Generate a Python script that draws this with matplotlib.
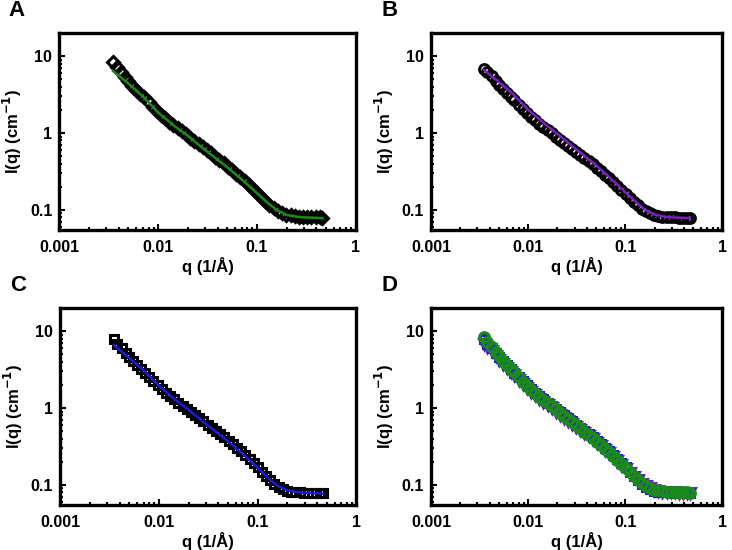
import matplotlib
matplotlib.use('Agg')
import matplotlib.pyplot as plt
from matplotlib.ticker import LogLocator, NullFormatter, FixedLocator, FixedFormatter

plt.rcParams['font.family'] = ['Liberation Sans', 'DejaVu Sans']
plt.rcParams['font.weight'] = 'bold'

# scattering vector for the measured points (1/A)
q_data = [0.0035, 0.0038, 0.0042, 0.0046, 0.0050, 0.0055, 0.0060, 0.0066, 0.0072,
          0.0080, 0.0088, 0.0097, 0.0107, 0.0118, 0.0130, 0.0143, 0.0158, 0.0174,
          0.0192, 0.0211, 0.0233, 0.0257, 0.0283, 0.0312, 0.0344, 0.0379, 0.0418,
          0.0461, 0.0508, 0.0560, 0.0617, 0.0680, 0.0750, 0.0827, 0.0911, 0.1005,
          0.111, 0.122, 0.134, 0.148, 0.163, 0.180, 0.198, 0.219, 0.241, 0.266,
          0.293, 0.323, 0.356, 0.392, 0.432, 0.460]

I_a = [8.3, 7.3, 6.3, 5.4, 4.7, 4.1, 3.65, 3.25, 2.9, 2.5, 2.2, 1.95, 1.72, 1.55,
       1.4, 1.27, 1.15, 1.05, 0.96, 0.87, 0.79, 0.72, 0.66, 0.60, 0.545, 0.495,
       0.45, 0.405, 0.365, 0.33, 0.295, 0.265, 0.237, 0.21, 0.187, 0.166, 0.147,
       0.131, 0.117, 0.106, 0.097, 0.091, 0.087, 0.085, 0.083, 0.082, 0.081,
       0.081, 0.080, 0.080, 0.080, 0.079]

I_b = [6.9, 6.3, 5.5, 4.8, 4.2, 3.7, 3.3, 2.95, 2.65, 2.3, 2.05, 1.82, 1.62, 1.46,
       1.32, 1.2, 1.09, 0.99, 0.9, 0.82, 0.75, 0.68, 0.62, 0.565, 0.515, 0.47,
       0.43, 0.39, 0.355, 0.32, 0.288, 0.258, 0.23, 0.205, 0.182, 0.162, 0.144,
       0.128, 0.115, 0.104, 0.096, 0.090, 0.086, 0.084, 0.082, 0.081, 0.080,
       0.080, 0.079, 0.079, 0.078, 0.078]

I_c = [7.9, 6.9, 6.0, 5.2, 4.6, 4.05, 3.6, 3.2, 2.85, 2.5, 2.22, 1.98, 1.77, 1.59,
       1.44, 1.3, 1.18, 1.07, 0.98, 0.89, 0.81, 0.74, 0.67, 0.61, 0.555, 0.505,
       0.46, 0.415, 0.375, 0.34, 0.305, 0.275, 0.245, 0.218, 0.194, 0.17, 0.148,
       0.13, 0.115, 0.103, 0.094, 0.088, 0.084, 0.082, 0.081, 0.080, 0.079,
       0.079, 0.078, 0.078, 0.078, 0.078]

# model fits
q_fit = [0.0035, 0.005, 0.007, 0.01, 0.015, 0.02, 0.03, 0.05, 0.07, 0.1, 0.13,
         0.16, 0.2, 0.25, 0.3, 0.4, 0.46]
fit_a = [6.4, 4.4, 3.0, 1.85, 1.2, 0.92, 0.6, 0.36, 0.25, 0.166, 0.122, 0.099,
         0.086, 0.082, 0.080, 0.079, 0.078]
fit_b = [6.6, 4.6, 3.2, 2.0, 1.3, 0.97, 0.64, 0.38, 0.26, 0.17, 0.125, 0.1,
         0.087, 0.082, 0.080, 0.079, 0.078]
fit_c = [6.6, 4.5, 3.1, 1.95, 1.25, 0.95, 0.62, 0.37, 0.255, 0.168, 0.12, 0.097,
         0.085, 0.081, 0.079, 0.078, 0.077]

x_ticks = [0.001, 0.01, 0.1, 1]
x_labels = ['0.001', '0.01', '0.1', '1']
y_ticks = [0.1, 1, 10]
y_labels = ['0.1', '1', '10']

GREEN = '#1a8a1a'
PURPLE = '#7a1fc0'
BLUE = '#1a1ad8'


def style_axes(ax, letter):
    ax.set_xscale('log')
    ax.set_yscale('log')
    ax.set_xlim(0.001, 1)
    ax.set_ylim(0.055, 20)
    ax.xaxis.set_major_locator(FixedLocator(x_ticks))
    ax.xaxis.set_major_formatter(FixedFormatter(x_labels))
    ax.yaxis.set_major_locator(FixedLocator(y_ticks))
    ax.yaxis.set_major_formatter(FixedFormatter(y_labels))
    ax.xaxis.set_minor_locator(LogLocator(base=10, subs=range(2, 10)))
    ax.yaxis.set_minor_locator(LogLocator(base=10, subs=range(2, 10)))
    ax.xaxis.set_minor_formatter(NullFormatter())
    ax.yaxis.set_minor_formatter(NullFormatter())
    ax.tick_params(which='major', direction='in', length=4, width=1.5,
                   labelsize=11.5, pad=5)
    ax.tick_params(which='minor', direction='in', length=2, width=1.5)
    ax.tick_params(axis='x', which='major', pad=7)
    for s in ax.spines.values():
        s.set_linewidth(2.4)
    ax.set_xlabel('q (1/Å)', fontsize=12, fontweight='bold', labelpad=2)
    ax.set_ylabel('I(q) (cm$^{\\mathbf{-1}}$)', fontsize=12, fontweight='bold',
                  labelpad=4)
    for lab in ax.get_xticklabels() + ax.get_yticklabels():
        lab.set_fontweight('bold')
    ax.text(-0.17, 1.17, letter, transform=ax.transAxes, fontsize=16,
            fontweight='bold', va='top', ha='left')


fig = plt.figure(figsize=(7.32, 5.5), dpi=100)
h = 0.358
ax_a = fig.add_axes([0.081, 0.582, 0.405, h])
ax_b = fig.add_axes([0.589, 0.582, 0.398, h])
ax_c = fig.add_axes([0.082, 0.082, 0.405, h])
ax_d = fig.add_axes([0.589, 0.082, 0.398, h])

mk = dict(linestyle='none', markerfacecolor='none', markeredgewidth=2.2)

ax_a.plot(q_data, I_a, marker='D', markersize=6.5, markeredgecolor='black', **mk)
ax_a.plot(q_fit, fit_a, color=GREEN, linewidth=1.8)
style_axes(ax_a, 'A')

ax_b.plot(q_data, I_b, marker='o', markersize=7, markeredgecolor='black', **mk)
ax_b.plot(q_fit, fit_b, color=PURPLE, linewidth=1.8)
style_axes(ax_b, 'B')

ax_c.plot(q_data, I_c, marker='s', markersize=6, markeredgecolor='black', **mk)
ax_c.plot(q_fit, fit_c, color=BLUE, linewidth=1.8)
style_axes(ax_c, 'C')

ax_d.plot(q_data, I_b, marker='v', markersize=7, markeredgecolor=PURPLE, **mk)
ax_d.plot(q_data, I_c, marker='s', markersize=6, markeredgecolor=BLUE, **mk)
ax_d.plot(q_data, I_a, marker='o', markersize=7, markeredgecolor=GREEN, **mk)
style_axes(ax_d, 'D')

fig.savefig('out.png', dpi=100)
